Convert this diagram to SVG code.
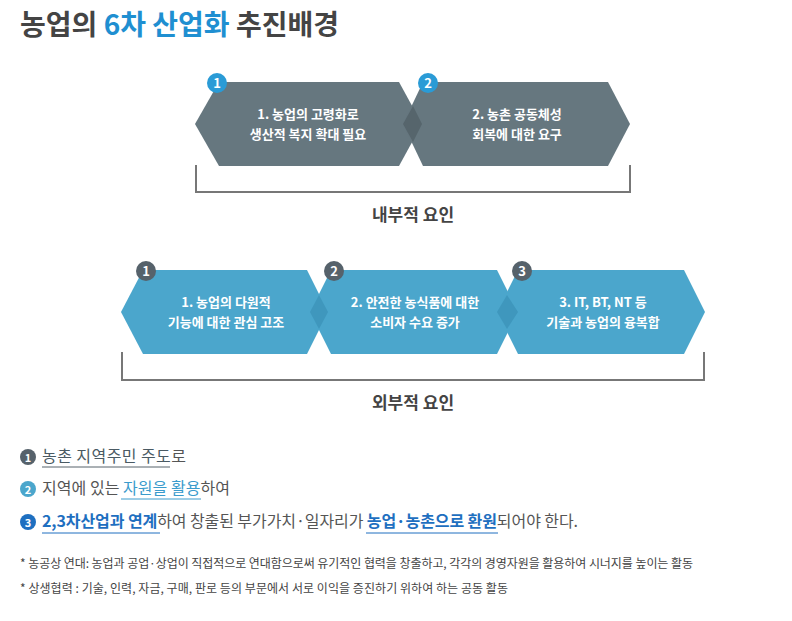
<svg xmlns="http://www.w3.org/2000/svg" width="792" height="621" viewBox="0 0 792 621">
<style>
text{font-family:"Noto Sans CJK KR","Noto Sans",sans-serif}
.t{font-size:13px;fill:#fff;text-anchor:middle;font-weight:bold}
.b{font-size:13px;fill:#fff;text-anchor:middle;font-weight:bold}
.br{fill:none;stroke:#777;stroke-width:2}
.lab{font-size:17px;font-weight:bold;fill:#444;text-anchor:middle}
.li{font-size:16px;fill:#555}
.fn{font-size:12px;fill:#444}
</style>
<rect width="792" height="621" fill="#fff"/>
<text x="20" y="35" font-size="28" font-weight="bold" fill="#444">농업의 <tspan fill="#1f8fd1">6차 산업화</tspan> 추진배경</text>

<g id="inner1"><polygon points="195,124 219,82 399,82 422,124 399,166 219,166" fill="#66777f"/><text class="t" x="308" y="119">1. 농업의 고령화로</text><text class="t" x="308" y="139">생산적 복지 확대 필요</text></g>
<g id="inner2"><polygon points="403,124 423,82 608,82 630,124 608,166 423,166" fill="#66777f"/><text class="t" x="517" y="119">2. 농촌 공동체성</text><text class="t" x="517" y="139">회복에 대한 요구</text></g>
<polygon points="413,106 422,124 413,142 403,124" fill="#56656c"/>
<g id="badgeI1"><circle cx="217" cy="83" r="10" fill="#2a9bd6"/><text class="b" x="217" y="88">1</text></g>
<g id="badgeI2"><circle cx="428" cy="83" r="10" fill="#2a9bd6"/><text class="b" x="428" y="88">2</text></g>

<g id="outer1"><polygon points="121,312 143,270 307,270 328,312 307,354 143,354" fill="#4ba6cc"/><text class="t" x="226" y="307">1. 농업의 다원적</text><text class="t" x="226" y="327">기능에 대한 관심 고조</text></g>
<g id="outer2"><polygon points="310,312 331,270 497,270 518,312 497,354 331,354" fill="#4ba6cc"/><text class="t" x="415" y="307">2. 안전한 농식품에 대한</text><text class="t" x="415" y="327">소비자 수요 증가</text></g>
<g id="outer3"><polygon points="497,312 518,270 684,270 705,312 684,354 518,354" fill="#4ba6cc"/><text class="t" x="603" y="307">3. IT, BT, NT 등</text><text class="t" x="603" y="327">기술과 농업의 융복합</text></g>
<polygon points="319,295 328,312 319,329 310,312" fill="#3f97bd"/>
<polygon points="507,295 518,312 507,329 497,312" fill="#3f97bd"/>
<g id="badgeO1"><circle cx="146" cy="271" r="10" fill="#56626b"/><text class="b" x="146" y="276">1</text></g>
<g id="badgeO2"><circle cx="334" cy="271" r="10" fill="#56626b"/><text class="b" x="334" y="276">2</text></g>
<g id="badgeO3"><circle cx="522" cy="271" r="10" fill="#56626b"/><text class="b" x="522" y="276">3</text></g>

<g id="connectors">
<polyline class="br" points="196,165 196,192 630,192 630,165"/>
<polyline class="br" points="122,352 122,380 704,380 704,352"/>
</g>
<text class="lab" x="413" y="221">내부적 요인</text>
<text class="lab" x="413" y="409">외부적 요인</text>

<g id="list">
<circle cx="28" cy="457" r="8" fill="#56626b"/><text x="28" y="461.5" font-size="11" font-weight="bold" fill="#fff" text-anchor="middle">1</text>
<text class="li" x="42" y="462" textLength="144"><tspan fill="#4a5a63">농촌 지역주민 주도</tspan>로</text>
<line x1="42" y1="467" x2="170" y2="467" stroke="#56626b"/>
<circle cx="28" cy="489" r="8" fill="#4ba6cc"/><text x="28" y="493.5" font-size="11" font-weight="bold" fill="#fff" text-anchor="middle">2</text>
<text class="li" x="42" y="494" textLength="188">지역에 있는 <tspan fill="#3a9bcc">자원을 활용</tspan>하여</text>
<line x1="121" y1="499" x2="201" y2="499" stroke="#3a9bcc"/>
<circle cx="28" cy="522" r="8" fill="#1e6fc0"/><text x="28" y="526.5" font-size="11" font-weight="bold" fill="#fff" text-anchor="middle">3</text>
<text class="li" x="42" y="527" textLength="536"><tspan fill="#1e6fc0" font-weight="bold">2,3차산업과 연계</tspan>하여 창출된 부가가치·일자리가 <tspan fill="#1e6fc0" font-weight="bold">농업·농촌으로 환원</tspan>되어야 한다.</text>
<line x1="42" y1="533" x2="160" y2="533" stroke="#1e6fc0"/>
<line x1="366" y1="533" x2="498" y2="533" stroke="#1e6fc0"/>
<text class="fn" x="20" y="568" textLength="673">*  농공상 연대: 농업과 공업·상업이 직접적으로 연대함으로써 유기적인 협력을 창출하고, 각각의 경영자원을 활용하여 시너지를 높이는 활동</text>
<text class="fn" x="20" y="593" textLength="488">*  상생협력 : 기술, 인력, 자금, 구매, 판로 등의 부문에서 서로 이익을 증진하기 위하여 하는 공동 활동</text>
</g>
</svg>
